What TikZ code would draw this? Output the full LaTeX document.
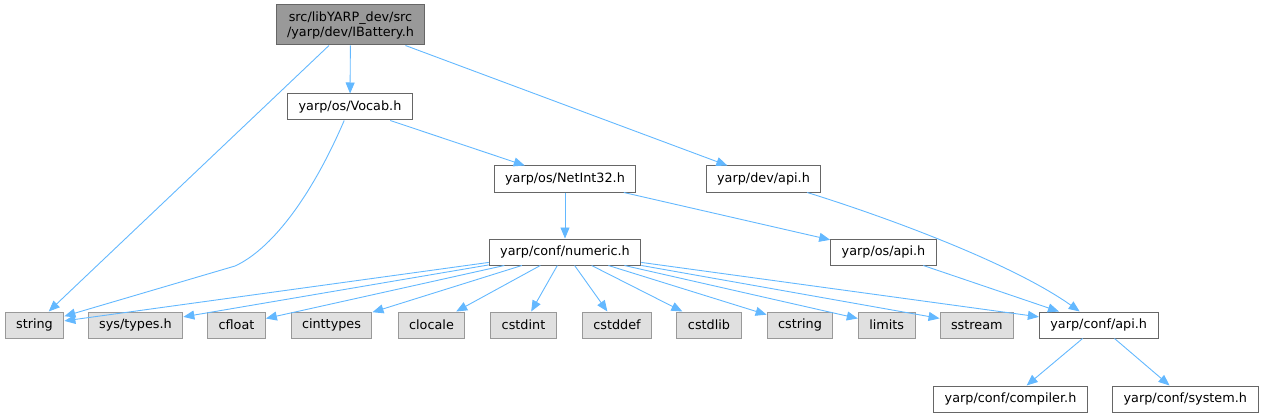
\documentclass[tikz,border=0pt]{standalone}
\usepackage{fontspec}
\setmainfont{DejaVu Sans}
\usetikzlibrary{arrows.meta}

\definecolor{edgeblue}{HTML}{63B8FF}
\definecolor{boxborder}{HTML}{666666}
\definecolor{sysborder}{HTML}{999999}
\definecolor{sysfill}{HTML}{E0E0E0}
\definecolor{rootfill}{HTML}{999999}

\begin{document}
\begin{tikzpicture}[x=1pt, y=-1pt]
  % Styles
  \tikzstyle{hdr}=[rectangle, draw=boxborder, fill=white, inner xsep=11pt, inner ysep=0pt, minimum height=26pt, line width=1pt, font=\fontsize{12.8}{15}\selectfont]
  \tikzstyle{sys}=[hdr, draw=sysborder, fill=sysfill]
  \tikzstyle{root}=[hdr, fill=rootfill, align=center, minimum height=40pt]
  \tikzstyle{arrow}=[-{Triangle[length=11pt, width=9pt]}, draw=edgeblue, line width=0.9pt]

  \useasboundingbox (0,0) rectangle (1264,417);

  % Top levels
  \node[root] (ibattery) at (350.5, 25) {src/libYARP\_dev/src\\/yarp/dev/IBattery.h};
  \node[hdr] (vocab) at (350, 107) {yarp/os/Vocab.h};
  \node[hdr] (netint) at (565, 179) {yarp/os/NetInt32.h};
  \node[hdr] (devapi) at (763.5, 179) {yarp/dev/api.h};
  \node[hdr] (numeric) at (565, 252) {yarp/conf/numeric.h};
  \node[hdr] (osapi) at (883.5, 252) {yarp/os/api.h};

  % Bottom row
  \node[sys] (string) at (34.5, 325) {string};
  \node[sys] (systypes) at (135.5, 325) {sys/types.h};
  \node[sys] (cfloat) at (236.5, 325) {cfloat};
  \node[sys] (cinttypes) at (331.5, 325) {cinttypes};
  \node[sys] (clocale) at (431.5, 325) {clocale};
  \node[sys] (cstdint) at (523.5, 325) {cstdint};
  \node[sys] (cstddef) at (617, 325) {cstddef};
  \node[sys] (cstdlib) at (709, 325) {cstdlib};
  \node[sys] (cstring) at (800, 325) {cstring};
  \node[sys] (limits) at (886.7, 325) {limits};
  \node[sys] (sstream) at (976.8, 325) {sstream};
  \node[hdr] (confapi) at (1098.7, 325) {yarp/conf/api.h};

  \node[hdr] (compiler) at (1010.5, 399) {yarp/conf/compiler.h};
  \node[hdr] (system) at (1185.3, 399) {yarp/conf/system.h};

  % Includes of IBattery.h
  \draw[arrow] (ibattery) -- (string);
  \draw[arrow] (ibattery) -- (vocab);
  \draw[arrow] (ibattery) -- (devapi);

  % Includes of Vocab.h and NetInt32.h
  \draw[arrow] (vocab) .. controls (310,200) and (270,250) .. (235,266) -- (string);
  \draw[arrow] (vocab) -- (netint);
  \draw[arrow] (netint) -- (numeric);
  \draw[arrow] (netint) -- (osapi);

  % Includes of numeric.h
  \foreach \dst in {string, systypes, cfloat, cinttypes, clocale, cstdint, cstddef, cstdlib, cstring, limits, sstream, confapi}
    \draw[arrow] (numeric) -- (\dst);

  % Includes of the api headers
  \draw[arrow] (devapi) .. controls (880,215) and (1010,262) .. (confapi);
  \draw[arrow] (osapi) -- (confapi);
  \draw[arrow] (confapi) -- (compiler);
  \draw[arrow] (confapi) -- (system);
\end{tikzpicture}
\end{document}
